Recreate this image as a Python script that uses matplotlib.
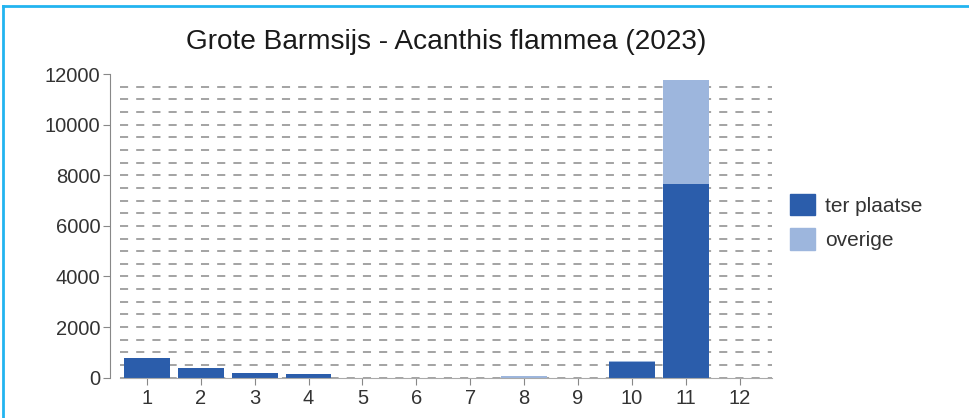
import matplotlib
matplotlib.use('Agg')
import matplotlib.pyplot as plt
from matplotlib.lines import Line2D
from matplotlib.patches import Patch

plt.rcParams['font.family'] = ['Liberation Sans', 'DejaVu Sans']

maanden = [1, 2, 3, 4, 5, 6, 7, 8, 9, 10, 11, 12]
ter_plaatse = [770, 370, 190, 130, 0, 0, 0, 0, 0, 610, 7670, 0]
overige = [20, 0, 0, 10, 0, 0, 0, 70, 0, 60, 4080, 0]
titel = 'Grote Barmsijs - Acanthis flammea (2023)'
yticks = [0, 2000, 4000, 6000, 8000, 10000, 12000]
grid_levels = list(range(0, 12000, 500))

dark = '#2b5dab'
light = '#9db6dd'

fig = plt.figure(figsize=(9.7, 4.18), dpi=100)
ax = fig.add_axes([120/970, 40.3/418, 652/970, 303.7/418])

for g in grid_levels:
    ax.axhline(g, color='#8a8a8a', lw=1.1, ls=(0, (5.3, 5.3)), zorder=1)

ax.bar(maanden, ter_plaatse, width=0.85, color=dark, zorder=2)
ax.bar(maanden, overige, width=0.85, bottom=ter_plaatse, color=light, zorder=2)

ax.set_xlim(0.5, 12.6)
ax.set_ylim(0, 12000)
ax.set_xticks(maanden)
ax.set_yticks(yticks)
ax.tick_params(axis='both', colors='#888888', labelcolor='#333333', labelsize=14.5, length=5)
ax.tick_params(axis='x', pad=3)
ax.tick_params(axis='y', pad=2)

for s in ['top', 'right']:
    ax.spines[s].set_visible(False)
ax.spines['left'].set_position(('outward', 7))
ax.spines['left'].set_color('#888888')
ax.spines['bottom'].set_color('#aaaaaa')
ax.spines['bottom'].set_linewidth(0.8)

ax.set_title(titel, fontsize=20.2, color='#1a1a1a', pad=18)

handles = [Patch(color=dark, label='ter plaatse'), Patch(color=light, label='overige')]
fig.legend(handles=handles, loc='upper left', bbox_to_anchor=(790/970, 1-194/418),
           frameon=False, fontsize=15, borderpad=0, borderaxespad=0,
           handlelength=1.2, handleheight=1.2,
           handletextpad=0.5, labelspacing=0.6, labelcolor='#333333')

# frame around the chart
fig.add_artist(Line2D([3.5/970, 3.5/970], [0, 1-6/418], transform=fig.transFigure,
                      color='#22b4f0', lw=2))
fig.add_artist(Line2D([3.5/970, 1], [1-6/418, 1-6/418], transform=fig.transFigure,
                      color='#22b4f0', lw=2))

fig.savefig('out.png', dpi=100)
